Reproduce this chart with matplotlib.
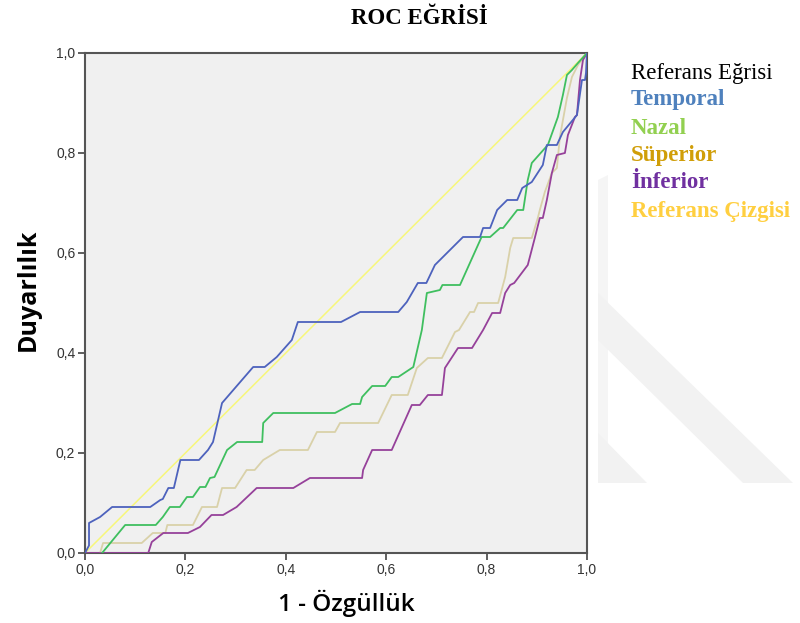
import numpy as np
import matplotlib
matplotlib.use("Agg")
from matplotlib import pyplot as plt
from matplotlib.patches import Polygon

# ROC curve points (1 - specificity, sensitivity)
temporal_x = [0, 0.008, 0.008, 0.03, 0.054, 0.13, 0.15, 0.155, 0.166, 0.177, 0.19, 0.227, 0.245,
              0.255, 0.273, 0.335, 0.358, 0.382, 0.412, 0.424, 0.51, 0.548, 0.624, 0.641, 0.663,
              0.68, 0.697, 0.707, 0.753, 0.787, 0.793, 0.807, 0.821, 0.841, 0.861, 0.871, 0.89,
              0.912, 0.92, 0.94, 0.952, 0.98, 0.99, 0.996, 0.998, 1.0]
temporal_y = [0, 0.015, 0.06, 0.072, 0.092, 0.092, 0.106, 0.108, 0.13, 0.13, 0.186, 0.186, 0.206,
              0.222, 0.30, 0.372, 0.372, 0.392, 0.426, 0.462, 0.462, 0.482, 0.482, 0.502, 0.54,
              0.54, 0.576, 0.586, 0.632, 0.632, 0.65, 0.65, 0.686, 0.706, 0.706, 0.73, 0.742,
              0.776, 0.816, 0.816, 0.842, 0.876, 0.946, 0.946, 0.96, 1.0]

nazal_x = [0.034, 0.08, 0.141, 0.155, 0.169, 0.189, 0.203, 0.215, 0.229, 0.24, 0.249, 0.258,
           0.283, 0.303, 0.353, 0.355, 0.375, 0.498, 0.532, 0.548, 0.552, 0.572, 0.598, 0.611,
           0.624, 0.654, 0.671, 0.681, 0.707, 0.712, 0.747, 0.79, 0.807, 0.827, 0.833, 0.861,
           0.873, 0.882, 0.89, 0.913, 0.922, 0.942, 0.952, 0.96, 0.97, 0.982, 1.0]
nazal_y = [0, 0.056, 0.056, 0.072, 0.092, 0.092, 0.112, 0.112, 0.132, 0.132, 0.15, 0.152,
           0.206, 0.222, 0.222, 0.26, 0.28, 0.28, 0.298, 0.298, 0.312, 0.334, 0.334, 0.352,
           0.352, 0.372, 0.446, 0.52, 0.526, 0.536, 0.536, 0.632, 0.632, 0.65, 0.65, 0.686,
           0.686, 0.746, 0.78, 0.806, 0.816, 0.872, 0.916, 0.956, 0.966, 0.98, 1.0]

superior_x = [0.03, 0.036, 0.113, 0.135, 0.16, 0.164, 0.215, 0.233, 0.263, 0.273, 0.299, 0.322,
              0.338, 0.355, 0.388, 0.444, 0.462, 0.498, 0.508, 0.584, 0.611, 0.643, 0.661, 0.683,
              0.711, 0.731, 0.737, 0.745, 0.767, 0.775, 0.783, 0.823, 0.837, 0.847, 0.853, 0.89,
              0.902, 0.906, 0.916, 0.93, 0.94, 0.946, 0.96, 0.97, 0.982, 1.0]
superior_y = [0, 0.02, 0.02, 0.04, 0.04, 0.056, 0.056, 0.092, 0.092, 0.13, 0.13, 0.166,
              0.166, 0.186, 0.206, 0.206, 0.242, 0.242, 0.26, 0.26, 0.316, 0.316, 0.37, 0.39,
              0.39, 0.43, 0.442, 0.446, 0.482, 0.482, 0.5, 0.5, 0.552, 0.61, 0.63, 0.63,
              0.67, 0.686, 0.722, 0.76, 0.77, 0.832, 0.91, 0.952, 0.976, 1.0]

inferior_x = [0, 0.126, 0.133, 0.156, 0.205, 0.229, 0.252, 0.275, 0.302, 0.342, 0.415, 0.448,
              0.552, 0.554, 0.572, 0.611, 0.627, 0.651, 0.667, 0.683, 0.711, 0.717, 0.743, 0.771,
              0.793, 0.811, 0.827, 0.837, 0.847, 0.855, 0.882, 0.896, 0.906, 0.912, 0.92, 0.93,
              0.94, 0.956, 0.962, 0.976, 0.98, 0.986, 0.992, 1.0]
inferior_y = [0, 0, 0.022, 0.04, 0.04, 0.052, 0.076, 0.076, 0.092, 0.13, 0.13, 0.15,
              0.15, 0.166, 0.206, 0.206, 0.242, 0.296, 0.296, 0.316, 0.316, 0.37, 0.41, 0.41,
              0.446, 0.48, 0.48, 0.52, 0.536, 0.54, 0.576, 0.63, 0.67, 0.67, 0.706, 0.76,
              0.796, 0.8, 0.836, 0.872, 0.876, 0.946, 0.986, 1.0]

reference_x = [0, 1]
reference_y = [0, 1]

ticks = [0.0, 0.2, 0.4, 0.6, 0.8, 1.0]
tick_labels = ['0,0', '0,2', '0,4', '0,6', '0,8', '1,0']

legend_labels = ['Referans Eğrisi', 'Temporal', 'Nazal', 'Süperior', 'İnferior', 'Referans Çizgisi']
legend_colors = ['#000000', '#4f81bd', '#92d050', '#d09e08', '#7030a0', '#ffcf40']

fig = plt.figure(figsize=(8, 6.23), dpi=100)

# faint watermark on the right
W, H = 800, 623
def fpoly(pts, color):
    p = Polygon([(x / W, 1 - y / H) for x, y in pts], closed=True, transform=fig.transFigure,
                facecolor=color, edgecolor='none', zorder=0)
    fig.patches.append(p)

fpoly([(598, 180), (608, 175), (608, 483), (598, 483)], '#f5f5f5')
fpoly([(598, 293), (793, 483), (743, 483), (598, 340)], '#f2f2f2')
fpoly([(598, 433), (647, 483), (598, 483)], '#f2f2f2')

ax = fig.add_axes([85 / W, 70 / H, 502 / W, 500 / H])
ax.set_facecolor('#f0f0f0')

ax.plot(reference_x, reference_y, color='#f7f77a', lw=1.1, zorder=2)
ax.plot(superior_x, superior_y, color='#d9d1a9', lw=1.3, zorder=3)
ax.plot(inferior_x, inferior_y, color='#96419a', lw=1.3, zorder=3)
ax.plot(nazal_x, nazal_y, color='#3fbf5f', lw=1.3, zorder=4)
ax.plot(temporal_x, temporal_y, color='#4d62bd', lw=1.3, zorder=5)

ax.set_xlim(0, 1)
ax.set_ylim(0, 1)
ax.set_xticks(ticks)
ax.set_yticks(ticks)
ax.set_xticklabels(tick_labels)
ax.set_yticklabels(tick_labels)
tick_font = ['Liberation Sans Narrow', 'Liberation Sans']
for lab in ax.get_xticklabels() + ax.get_yticklabels():
    lab.set_family(tick_font)
    lab.set_fontsize(10)
    lab.set_color('#333333')
ax.tick_params(direction='out', length=5, width=1.2, color='#444444', pad=2)
for s in ax.spines.values():
    s.set_color('#555555')
    s.set_linewidth(1.5)

fig.text(419 / W, 1 - 19 / H, 'ROC EĞRİSİ', ha='center', va='center',
         family='Liberation Serif', fontweight='bold', fontsize=16.5)
fig.text(28 / W, 1 - 290 / H, 'Duyarlılık', rotation=90, ha='center', va='center',
         family='Open Sans', fontweight='bold', fontsize=18)
fig.text(346 / W, 1 - 603 / H, '1 - Özgüllük', ha='center', va='center',
         family='Open Sans', fontweight='semibold', fontsize=17.5)

legend_y = [73, 100, 128, 156, 183, 211]
for i, (lab, col) in enumerate(zip(legend_labels, legend_colors)):
    fig.text(631 / W, 1 - legend_y[i] / H, lab, ha='left', va='center', color=col,
             family='Liberation Serif', fontsize=16.5,
             fontweight='normal' if i == 0 else 'bold')

fig.savefig('out.png', dpi=100)
